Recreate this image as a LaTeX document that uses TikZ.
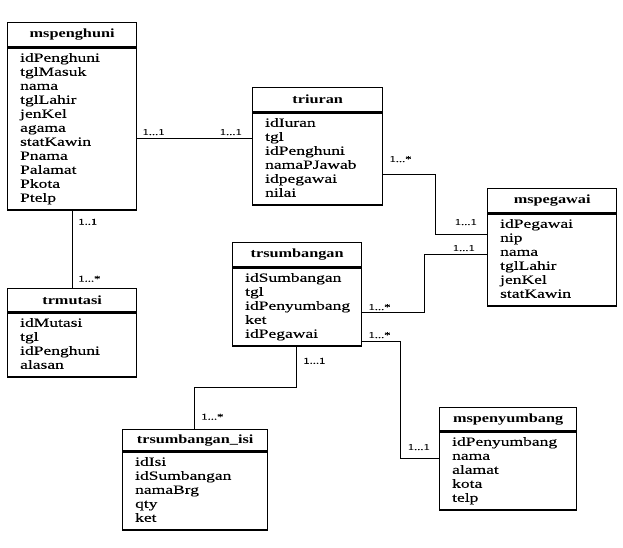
\documentclass[tikz,border=0pt]{standalone}
\usepackage{fontspec}
\setmainfont{Liberation Serif}[FakeStretch=1.3]
\newfontfamily\attrfont{Liberation Serif}[FakeStretch=1.4,FakeBold=0.25]
\usetikzlibrary{positioning,calc}
\tikzset{
    every node/.style={font=\fontsize{12.5}{14}\selectfont},
    ehead/.style={draw,line width=1.3pt,minimum height=24pt,inner sep=2pt,anchor=north west,font=\fontsize{12.5}{14}\selectfont\bfseries},
    ebody/.style={draw,line width=1.3pt,align=left,inner xsep=12.5pt,inner ysep=4pt,font=\attrfont\fontsize{12.5}{14}\selectfont,execute at begin node=\strut,execute at end node=\strut},
    link/.style={draw,line width=1.1pt},
    card/.style={font=\attrfont\fontsize{9}{10}\selectfont,inner sep=1pt}
}
\begin{document}
\begin{tikzpicture}[x=1pt,y=-1pt]
    \useasboundingbox (0,0) rectangle (623,547);
    % tables
    \node[ehead,minimum width=129pt] (ph) at (7,22) {mspenghuni};
    \node[ebody,text width=104pt,below=0pt of ph] (pb) {idPenghuni\\tglMasuk\\nama\\tglLahir\\jenKel\\agama\\statKawin\\Pnama\\Palamat\\Pkota\\Ptelp};
    \node[ehead,minimum width=130pt] (th) at (252,87) {triuran};
    \node[ebody,text width=105pt,below=0pt of th] (tb) {idIuran\\tgl\\idPenghuni\\namaPJawab\\idpegawai\\nilai};
    \node[ehead,minimum width=129pt] (gh) at (487,188) {mspegawai};
    \node[ebody,text width=104pt,below=0pt of gh] (gb) {idPegawai\\nip\\nama\\tglLahir\\jenKel\\statKawin};
    \node[ehead,minimum width=129pt,minimum height=23pt] (mh) at (7,288) {trmutasi};
    \node[ebody,text width=104pt,below=0pt of mh] (mb) {idMutasi\\tgl\\idPenghuni\\alasan};
    \node[ehead,minimum width=129pt] (sh) at (232,242) {trsumbangan};
    \node[ebody,text width=104pt,below=0pt of sh] (sb) {idSumbangan\\tgl\\idPenyumbang\\ket\\idPegawai};
    \node[ehead,minimum width=145pt,minimum height=21pt] (ih) at (122,429) {trsumbangan\_isi};
    \node[ebody,text width=120pt,below=0pt of ih] (ib) {idIsi\\idSumbangan\\namaBrg\\qty\\ket};
    \node[ehead,minimum width=137pt,minimum height=23pt] (yh) at (439,407) {mspenyumbang};
    \node[ebody,text width=112pt,below=0pt of yh] (yb) {idPenyumbang\\nama\\alamat\\kota\\telp};
    % connector ends
    \coordinate (a1) at ([yshift=-91pt]pb.north east);
    \coordinate (a2) at (a1 -| tb.west);
    \coordinate (t1) at ([yshift=-62pt]tb.north east);
    \coordinate (p1) at ([yshift=-21pt]gb.north west);
    \coordinate (p2) at ([yshift=-41pt]gb.north west);
    \coordinate (s1) at ([yshift=-45pt]sb.north east);
    \coordinate (s2) at ([yshift=-74pt]sb.north east);
    \coordinate (y1) at ([yshift=-27pt]yb.north west);
    \coordinate (s3) at ([xshift=64.15pt]sb.south west);
    \coordinate (i1) at ([xshift=72.15pt]ih.north west);
    % relations
    \draw[link] (a1) -- (a2);
    \draw[link] (pb.south) -- (mh.north);
    \draw[link] (t1) -| ($(t1)!.5!(p1)$) |- (p1);
    \draw[link] (p2) -| ($(p2)!.5!(s1)$) |- (s1);
    \draw[link] (s2) -| ($(s2)!.5!(y1)$) |- (y1);
    \draw[link] (s3) |- ($(s3)!.5!(i1)$) -| (i1);
    % cardinalities
    \node[card,above right=2pt and 4pt of a1] (c1a) {1...1};
    \node[card,above left=2pt and 9pt of a2] (c1b) {1...1};
    \node[card,below right=7pt and 5pt of pb.south] (c2a) {1..1};
    \node[card,above right=5pt and 5pt of mh.north] (c2b) {1...*};
    \node[card,above right=11pt and 5pt of t1] (c3a) {1...*};
    \node[card,above left=8pt and 9pt of p1] (c3b) {1...1};
    \node[card,above left=2pt and 11pt of p2] (c4a) {1...1};
    \node[card,above right=1pt and 5pt of s1] (c4b) {1...*};
    \node[card,above right=2pt and 5pt of s2] (c5a) {1...*};
    \node[card,above left=7pt and 8pt of y1] (c5b) {1...1};
    \node[card,below right=10pt and 6pt of s3] (c6a) {1...1};
    \node[card,above right=8pt and 6pt of i1] (c6b) {1...*};
\end{tikzpicture}
\end{document}
